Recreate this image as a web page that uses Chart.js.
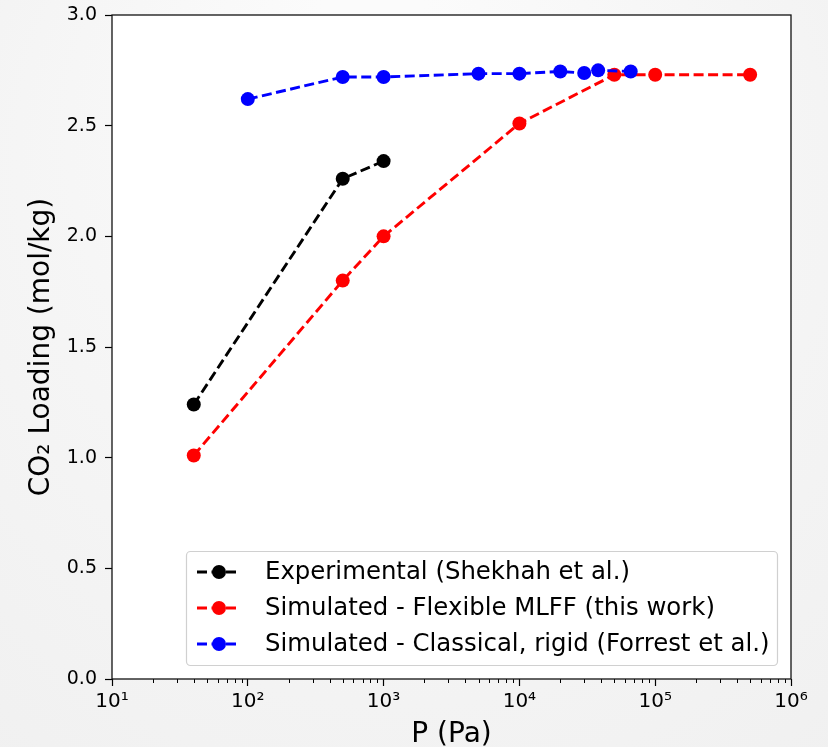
<!DOCTYPE html>
<html>
<head>
<meta charset="utf-8">
<script src="https://cdn.jsdelivr.net/npm/chart.js@4.4.0/dist/chart.umd.min.js"></script>
<style>
  html, body { margin: 0; padding: 0; background: #f3f3f3; }
  canvas { display: block; }
</style>
</head>
<body>
<canvas id="chart" width="828" height="747"></canvas>
<script>
// pressure (Pa) and CO2 loading (mol/kg) for each series
const expP = [40, 500, 1000];
const expLoad = [1.24, 2.26, 2.34];

const mlffP = [40, 500, 1000, 10000, 50000, 100000, 500000];
const mlffLoad = [1.01, 1.80, 2.00, 2.51, 2.73, 2.73, 2.73];

const rigidP = [100, 500, 1000, 5000, 10000, 20000, 30000, 38000, 66000];
const rigidLoad = [2.62, 2.72, 2.72, 2.735, 2.735, 2.745, 2.738, 2.75, 2.745];

const seriesLabels = [
  'Experimental (Shekhah et al.)',
  'Simulated - Flexible MLFF (this work)',
  'Simulated - Classical, rigid (Forrest et al.)'
];
const seriesColors = ['#000000', '#ff0000', '#0000ff'];

const xDecades = [10, 100, 1000, 10000, 100000, 1000000];
const xDecadeLabels = ['10¹', '10²', '10³', '10⁴', '10⁵', '10⁶'];
const yTicks = [0, 0.5, 1.0, 1.5, 2.0, 2.5, 3.0];

const DASH = [10, 4.5];
const LW = 2.9;

function toPoints(xs, ys) {
  return xs.map((x, i) => ({ x: x, y: ys[i] }));
}

function isMajor(v) {
  return xDecades.some(d => Math.abs(v - d) < 1e-6 * d);
}

const bgPlugin = {
  id: 'bg',
  beforeDraw(chart) {
    const { ctx, width, height, chartArea: a } = chart;
    ctx.save();
    const g = ctx.createRadialGradient(width * 0.45, 0, 50, width * 0.5, height * 0.4, 650);
    g.addColorStop(0, '#fbfbfb');
    g.addColorStop(1, '#f0f0f0');
    ctx.fillStyle = g;
    ctx.fillRect(0, 0, width, height);
    ctx.fillStyle = '#ffffff';
    ctx.fillRect(a.left, a.top, a.right - a.left, a.bottom - a.top);
    ctx.restore();
  }
};

const framePlugin = {
  id: 'frame',
  afterDraw(chart) {
    const { ctx, chartArea: a } = chart;
    const xs = chart.scales.x;
    ctx.save();
    // minor ticks on the log axis
    ctx.strokeStyle = '#000';
    ctx.lineWidth = 1;
    xs.ticks.forEach(t => {
      if (isMajor(t.value)) return;
      const px = Math.round(xs.getPixelForValue(t.value)) + 0.5;
      ctx.beginPath();
      ctx.moveTo(px, a.bottom);
      ctx.lineTo(px, a.bottom + 4);
      ctx.stroke();
    });
    // axes frame
    ctx.strokeStyle = '#111';
    ctx.lineWidth = 1.3;
    ctx.strokeRect(a.left, a.top, a.right - a.left, a.bottom - a.top);

    // legend box
    const bx = 186.5, by = 551.5, bw = 591, bh = 114;
    ctx.beginPath();
    ctx.roundRect(bx, by, bw, bh, 4);
    ctx.fillStyle = 'rgba(255,255,255,0.9)';
    ctx.fill();
    ctx.strokeStyle = '#d0d0d0';
    ctx.lineWidth = 1.2;
    ctx.stroke();

    ctx.font = '24.4px "DejaVu Sans"';
    ctx.textBaseline = 'middle';
    ctx.textAlign = 'left';
    chart.data.datasets.forEach((ds, i) => {
      const y = 572 + 36 * i;
      ctx.strokeStyle = ds.borderColor;
      ctx.lineWidth = LW;
      ctx.setLineDash(DASH);
      ctx.beginPath();
      ctx.moveTo(197, y);
      ctx.lineTo(240, y);
      ctx.stroke();
      ctx.setLineDash([]);
      ctx.fillStyle = ds.borderColor;
      ctx.beginPath();
      ctx.arc(219, y, 7, 0, Math.PI * 2);
      ctx.fill();
      ctx.fillStyle = '#000';
      ctx.fillText(ds.label, 265, y + 1);
    });
    ctx.restore();
  }
};

const datasets = [
  { data: toPoints(expP, expLoad), order: 2 },
  { data: toPoints(mlffP, mlffLoad), order: 1 },
  { data: toPoints(rigidP, rigidLoad), order: 0 }
].map((d, i) => Object.assign(d, {
  label: seriesLabels[i],
  borderColor: seriesColors[i],
  backgroundColor: seriesColors[i],
  borderWidth: LW,
  borderDash: DASH,
  pointRadius: 7,
  pointBorderWidth: 0,
  pointBackgroundColor: seriesColors[i],
  tension: 0,
  fill: false
}));

Chart.defaults.font.family = '"DejaVu Sans"';
Chart.defaults.color = '#000';

new Chart(document.getElementById('chart').getContext('2d'), {
  type: 'line',
  data: { datasets: datasets },
  options: {
    responsive: false,
    animation: false,
    layout: { padding: { left: 0, right: 37, top: 15, bottom: 0 } },
    plugins: {
      legend: { display: false },
      tooltip: { enabled: false }
    },
    scales: {
      x: {
        type: 'logarithmic',
        min: 10,
        max: 1000000,
        afterFit(s) { s.height = 68; s.paddingLeft = 0; s.paddingRight = 0; },
        afterBuildTicks(s) {
          const ticks = [];
          xDecades.forEach((d, k) => {
            if (k === xDecades.length - 1) { ticks.push({ value: d }); return; }
            for (let m = 1; m <= 9; m++) ticks.push({ value: d * m });
          });
          s.ticks = ticks;
        },
        border: { display: false },
        grid: {
          drawOnChartArea: false,
          drawTicks: true,
          tickLength: 7,
          tickWidth: 1.2,
          tickColor: c => (c.tick && isMajor(c.tick.value)) ? '#000' : 'rgba(0,0,0,0)'
        },
        ticks: {
          autoSkip: false,
          maxRotation: 0,
          padding: 4,
          font: { size: 20 },
          color: '#000',
          callback(v) {
            const i = xDecades.findIndex(d => Math.abs(v - d) < 1e-6 * d);
            return i >= 0 ? xDecadeLabels[i] : '';
          }
        },
        title: {
          display: true,
          text: 'P (Pa)',
          font: { size: 28 },
          color: '#000',
          padding: { top: 0, bottom: -5 }
        }
      },
      y: {
        min: 0,
        max: 3,
        afterFit(s) { s.width = 112; s.paddingTop = 0; s.paddingBottom = 0; },
        afterBuildTicks(s) { s.ticks = yTicks.map(v => ({ value: v })); },
        border: { display: false },
        grid: {
          drawOnChartArea: false,
          drawTicks: true,
          tickLength: 7,
          tickWidth: 1.2,
          tickColor: '#000'
        },
        ticks: {
          padding: 8,
          font: { size: 19 },
          color: '#000',
          callback: v => Number(v).toFixed(1)
        },
        title: {
          display: true,
          text: 'CO₂ Loading (mol/kg)',
          font: { size: 28 },
          color: '#000',
          padding: { top: 25, bottom: 0 }
        }
      }
    }
  },
  plugins: [bgPlugin, framePlugin]
});
</script>
</body>
</html>
